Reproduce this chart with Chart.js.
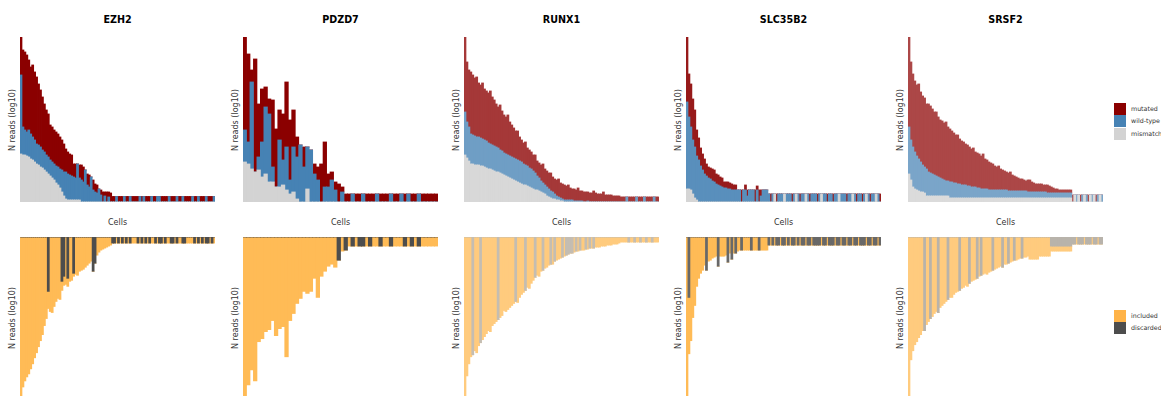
<!DOCTYPE html>
<html><head><meta charset="utf-8">
<script src="https://cdn.jsdelivr.net/npm/chart.js@4/dist/chart.umd.min.js"></script>
<style>
html,body{margin:0;padding:0;background:#fff;}
body{position:relative;width:1161px;height:396px;overflow:hidden;font-family:"DejaVu Sans",sans-serif;}
canvas{position:absolute;}
.lbl{position:absolute;white-space:nowrap;transform:translate(-50%,-50%);color:#222;}
.ttl{font-weight:bold;font-size:9.6px;color:#000;}
.ax{font-size:8px;color:#333;}
.yl{font-size:8px;color:#333;transform:translate(-50%,-50%) rotate(-90deg);}
.sw{position:absolute;width:12px;height:12px;}
.lt{position:absolute;font-size:6.3px;color:#333;white-space:nowrap;line-height:12px;}
</style></head><body>
<script>
// ---------- categories ----------
const genes = ["EZH2", "PDZD7", "RUNX1", "SLC35B2", "SRSF2"];
const topSeries = ["mutated", "wild-type", "mismatch"];
const bottomSeries = ["included", "discarded"];
const xAxisTitle = "Cells";
const yAxisTitle = "N reads (log10)";

// ---------- EZH2 (log10 reads per cell, cells sorted by depth) ----------
const ezh2Mismatch = [.96,.94,.94,.92,.90,.86,.84,.80,.76,.74, .70,.68,.64,.60,.56,.52,.48,.44,.38,.34, .28,.20,.12,.06,.04,.04,.04,.04,.04,.04, .04,0,0,0,0,0,0,0,0,0, 0,0,0,0,0,0,0,0,0,0, 0,0,0,0,0,0,0,0,0,0, 0,0,0,0,0,0,0,0,0,0, 0,0,0,0,0,0,0,0,0,0, 0,0,0,0,0,0,0,0,0,0, 0,0,0,0,0,0,0,0,0,0];
const ezh2WildType = [1.58,.56,.50,.48,.54,.50,.46,.44,.40,.40, .40,.36,.36,.34,.34,.32,.32,.32,.34,.36, .38,.44,.48,.54,.52,.50,.48,.46,.44,.72, .44,.44,.40,.64,.34,.30,.50,.24,.20,.18, .26,.14,0,.12,0,.10,0,0,0,.11, 0,0,0,.11,0,0,.11,0,0,0, 0,.11,0,.11,0,0,0,.11,0,0, .11,.11,0,0,0,0,.11,0,0,0, .11,0,0,.11,0,0,0,0,.11,0, 0,.11,0,0,0,.11,0,0,0,.11];
const ezh2Mutated = [.76,1.54,1.56,1.54,1.40,1.34,1.44,1.36,1.34,1.22, 1.14,1.06,.96,.90,.86,.70,.70,.68,.68,.66, .64,.60,.56,.46,.44,.42,.42,.26,.28,0, .26,.30,.30,0,.22,.24,0,.20,.16,.16, 0,.10,.20,.08,.20,.10,.18,.11,.11,0, .11,.11,.11,0,.11,.11,0,.11,.11,.11, .11,0,.11,0,.11,.11,.11,0,.11,.11, 0,0,.11,.11,.11,.11,0,.11,.11,.11, 0,.11,.11,0,.11,.11,.11,.11,0,.11, .11,0,.11,.11,.11,0,.11,.11,.11,0];
const ezh2Included = [3.16,2.98,2.86,2.78,2.72,2.62,2.52,2.40,2.30,2.18, 2.06,1.94,1.76,1.62,.34,1.48,1.50,1.38,1.28,1.22, 1.24,.18,.18,.94,.16,.88,.86,.06,.74,.76, .68,.66,.64,.60,.56,.52,.48,0,0,.36, .30,.26,.24,.22,.20,.18,.16,0,0,.12, 0,.12,0,.12,0,.12,0,.12,.12,.12, 0,.12,0,.12,0,.12,0,.12,.12,0, .12,0,0,.12,0,.12,.12,0,0,.12, 0,.12,.12,0,0,.12,.12,.12,.12,0, .12,0,.12,0,.12,0,0,.12,0,.12];
const ezh2Discarded = [0,0,0,0,0,0,0,0,0,0, 0,0,0,0,1.08,0,0,0,0,0, 0,.88,.78,0,.82,0,0,.72,0,0, 0,0,0,0,0,0,0,.68,.52,0, 0,0,0,0,0,0,0,.12,.12,0, .12,0,.12,0,.12,0,.12,0,0,0, .12,0,.12,0,.12,0,.12,0,0,.12, 0,.12,.12,0,.12,0,0,.12,.12,0, .12,0,0,.12,.12,0,0,0,0,.12, 0,.12,0,.12,0,.12,.12,0,.12,0];

// ---------- PDZD7 ----------
const pdzd7Mismatch = [.80,.76,.66,.60,.64,.50,.56,.40,.40,.30, .30,.34,.24,.16,.20,.06,0,0,.26,0, 0,0,0,0,0,0,0,0,0,0, 0,0,0,0,0,0,0,0,0,0, 0,0,0,0,0,0,0,0,0,0, 0,0,0,0,0,0];
const pdzd7WildType = [.64,.44,1.74,0,.26,.70,1.34,1.36,.30,0, .94,.50,.86,.28,.90,.84,1.14,.70,.84,1.04, .56,.44,0,.30,.30,.44,.24,0,.20, 0,0,.16,0,0,.16,0,0,0,.16, 0,0,0,.16,0,0,.16,0,.16,0, 0,.16,0,0,0,0,0];
const pdzd7Mutated = [1.86,1.76,.24,2.26,1.06,1.06,.40,.30,1.34,1.16, .60,.92,1.30,1.20,.74,.40,0,.40,0,0, .20,.26,.76,.90,.26,.16,.16,.36,.10, .16,.16,0,.16,.16,0,.16,.16,.16,0, .16,.16,.16,0,.16,.16,0,.16,0,.16, .16,0,.16,.16,.16,.16,.16];
const pdzd7Included = [3.16,2.94,2.64,2.86,2.08,2.02,1.88,1.84,1.66,1.96, 1.82,1.78,2.38,1.66,1.52,1.32,1.22,1.08,1.12,1.08, .82,1.20,.78,.68,.58,.54,.60,0,.28, 0,.18,0,.18,0,0,.18,0,.18,.18, 0,.18,.18,0,.18,.18,.18,0,.18,0, .18,0,.18,.18,.18,.18,.18];
const pdzd7Discarded = [0,0,0,0,0,0,0,0,0,0, 0,0,0,0,0,0,0,0,0,0, 0,0,0,0,0,0,0,.46,0, .26,0,.18,0,.18,.18,0,.18,0,0, .18,0,0,.18,0,0,0,.18,0,.18, 0,.18,0,0,0,0,0];

// ---------- RUNX1 ----------
const runx1Mismatch = [.94,.88,.82,.76,.76,.74,.74,.74,.72,.72, .70,.68,.66,.66,.64,.62,.60,.60,.58,.56, .54,.52,.50,.48,.46,.44,.42,.40,.38,.36, .34,.34,.32,.30,.28,.26,.24,.24,.22,.20, .18,.16,.12,.10,.08,.06,.06,.04,.04,.02, .02,0,0,0,0,0,0,0,0,0, 0,0,0,0,0,0,0,0,0,0, 0,0,0,0,0,0,0,0,0,0, 0,0,0,0,0,0,0,0,0,0, 0,0,0,0,0,0,0,0,0,0];
const runx1WildType = [.86,.72,.68,.60,.58,.58,.56,.56,.56,.54, .54,.54,.52,.50,.50,.50,.50,.48,.46,.46, .44,.44,.44,.44,.44,.44,.44,.44,.44,.44, .42,.40,.40,.38,.38,.36,.34,.28,.26,.22, .20,.18,.18,.16,.14,.14,.10,.08,.06,.06, .04,.04,.04,.04,.04,.04,.02,.02,.02,.02, .02,0,0,.02,0,0,0,0,0,0, 0,0,0,0,0,0,0,0,0,0, 0,0,0,.10,0,0,0,0,.10,0, 0,0,.10,0,0,0,0,.10,0,0];
const runx1Mutated = [1.50,1.20,1.14,1.24,1.20,1.16,1.20,1.08,1.06,1.12, 1.02,1.00,1.00,1.06,.96,.92,.86,.82,.90,.80, .76,.74,.80,.68,.64,.60,.56,.58,.48,.44, .42,.46,.36,.36,.34,.32,.36,.30,.30,.32, .38,.32,.32,.32,.36,.30,.30,.32,.36,.30, .30,.30,.28,.30,.24,.22,.24,.22,.26,.20, .20,.20,.20,.18,.18,.18,.22,.18,.16,.16, .16,.20,.14,.14,.14,.14,.12,.12,.12,.12, .10,.10,.10,0,.10,.10,.10,.10,0,.10, .10,.10,0,.10,.10,.10,.10,0,.10,.10];
const runx1Included = [3.16,2.76,2.52,2.38,0,2.26,2.30,2.16,0,2.04, 1.98,1.92,1.86,1.88,1.76,1.72,1.68,0,1.60,1.56, 1.46,1.48,1.44,1.40,1.36,1.32,0,1.30,1.20,1.14, 1.10,0,1.00,1.02,.92,.86,0,.76,.78,.68, 0,.62,.60,.56,0,.54,0,.46,.44,.42, 0,.38,0,0,0,0,.30,0,.28,0, .26,.26,0,.24,0,.22,0,.20,.20,.20, .18,.18,.18,.16,.16,.16,.14,.14,.14,.12, .10,.10,.10,.10,0,.10,.10,0,.10,.10, 0,.10,.10,0,.10,.10,0,.10,.10,.10];
const runx1Discarded = [0,0,0,0,2.34,0,0,0,2.10,0, 0,0,0,0,0,0,0,1.64,0,0, 0,0,0,0,0,0,1.28,0,0,0, 0,1.06,0,0,0,0,.80,0,0,0, .66,0,0,0,.54,0,.48,0,0,0, .40,0,.36,.34,.32,.32,0,.28,0,.26, 0,0,.24,0,.22,0,.22,0,0,0, 0,0,0,0,0,0,0,0,0,0, 0,0,0,0,.10,0,0,.10,0,0, .10,0,0,.10,0,0,.10,0,0,0];

// ---------- SLC35B2 ----------
const slc35b2Mismatch = [.26,.26,.24,.16,.08,.04,0,0,0,0, 0,0,0,0,0,0,0,0,0,0, 0,0,0,0,0,0,0,0,0,0, 0,0,0,0,0,0,0,0,0,0, 0,0,0,0,0,.16,0,0,0,0, .16,0,0,0,0,0,.16,0,0,0, 0,.16,0,0,0,0,0,0,0,.16, 0,0,0,0,0,0,0,0,.16,0, 0,0,0,0,0,.16,0,0,0,0, 0,0,.16,0,0,0,0,.16,0,0];
const slc35b2WildType = [1.74,1.44,1.26,1.08,1.02,.88,.84,.72,.64,.56, .52,.48,.46,.42,.40,.36,.34,.32,.30,.28, .28,.26,.26,.24,.24,.24,.24,.24,0,.24, .24,.12,.24,.24,.24,0,.24,0,.12,.24, .24,.24,.16,0,.16,0,0,.16,.16,.16, 0,.16,.16,.16,0,.16,0,.16,0,.16, .16,0,.16,0,.16,.16,.16,0,.16,0, .16,.16,0,.16,.16,0,.16,.16,0,.16, .16,.16,0,.16,.16,0,.16,0,.16,.16, 0,.16,0,.16,0,.16,.16,0,.16,0];
const slc35b2Mutated = [1.30,.86,.86,.82,.74,.52,.44,.36,.32,.30, .24,.22,.22,.24,.24,.20,.20,.18,.18,.12, .12,.14,.12,.12,.10,.10,0,0,.24,0, .10,.12,0,0,0,.24,.08,.24,.12,0, 0,0,0,.16,0,0,.16,0,0,0, 0,0,0,0,.16,0,0,0,.16,0, 0,0,0,.16,0,0,0,.16,0,0, 0,0,.16,0,0,.16,0,0,0,0, 0,0,.16,0,0,0,0,.16,0,0, .16,0,0,0,.16,0,0,0,0,.16];
const slc35b2Included = [3.16,1.12,2.06,1.60,1.36,.98,.82,.72,.66,.56, 0,.48,.46,.42,.40,.38,0,.38,.38,.38, .36,0,.32,0,.32,0,.28,.26,0,.26, .26,.26,.26,0,.26,.26,.26,0,.26,.26, .26,.26,0,.16,0,.16,0,0,.16,0, 0,.16,0,.16,0,0,.16,0,.16,0, 0,.16,0,0,.16,0,0,0,0,.16, 0,0,.16,0,0,0,.16,0,0,.16, 0,0,.16,0,0,.16,0,0,.16,0, 0,0,.16,0,0,.16,0,0,.16,0];
const slc35b2Discarded = [0,1.20,0,0,0,0,0,0,0,0, .66,0,0,0,0,0,.58,0,0,0, 0,.50,0,.44,0,.32,0,0,.26,0, 0,0,0,.26,0,0,0,.26,0,0, 0,0,.16,0,.16,0,.16,.16,0,.16, .16,0,.16,0,.16,.16,0,.16,0,.16, .16,0,.16,.16,0,.16,.16,.16,.16,0, .16,.16,0,.16,.16,.16,0,.16,.16,0, .16,.16,0,.16,.16,0,.16,.16,0,.16, .16,.16,0,.16,.16,0,.16,.16,0,.16];

// ---------- SRSF2 ----------
const srsf2Mismatch = [.56,.44,.30,.26,.24,.22,.20,.20,.18,.12, .12,.12,.12,.12,.12,.12,.12,.12,.12,.12, .12,.08,.08,.08,.08,.08,.08,.08,.08,.08, .08,.08,.08,.08,.08,.08,.08,.08,.08,.08, .08,.08,.08,.08,.08,.08,.08,.08,.08,.08, .08,.08,.08,.08,.08,.08,.08,.08,.08,.08, .08,.08,.08,.08,.08,.08,.08,.08,.08,.08, .08,.08,.08,.08,.08,.08,.08,.08,.08,.08, .08,.08,.08,.08,0,.14,0,.14,0,0, .14,0,0,.14,0,.14,0,0,.14,0];
const srsf2WildType = [.94,.80,.80,.74,.68,.64,.60,.54,.52,.54, .48,.46,.44,.42,.40,.38,.36,.34,.32,.30, .30,.32,.32,.30,.30,.28,.28,.26,.26,.26, .24,.24,.22,.22,.22,.20,.20,.18,.18,.18, .18,.16,.16,.16,.16,.16,.16,.16,.16,.16, .16,.14,.14,.14,.14,.14,.14,.14,.14,.14, .14,.12,.12,.12,.12,.12,.12,.12,.12,.12, .12,.10,.10,.10,.10,.10,.10,.10,.10,.10, .10,.10,.10,.10,0,0,.14,0,0,.14, 0,.14,0,0,.14,0,0,.14,0,.14];
const srsf2Mutated = [1.80,1.56,1.46,1.42,1.42,1.50,1.40,1.38,1.38,1.30, 1.36,1.34,1.30,1.26,1.28,1.20,1.16,1.16,1.14,1.18, 1.08,1.06,1.02,1.00,.96,.98,.90,.88,.86,.82, .82,.78,.76,.78,.70,.70,.68,.66,.70,.60, .58,.56,.54,.52,.48,.46,.48,.42,.40,.38, .36,.36,.38,.32,.30,.28,.26,.24,.24,.22, .20,.24,.24,.20,.18,.16,.16,.16,.16,.14, .14,.16,.14,.12,.10,.08,.08,.06,.06,.06, .06,.06,.06,.06,.14,0,0,0,.14,0, 0,0,.14,0,0,0,.14,0,0,0];
const srsf2Included = [3.16,2.44,2.26,2.14,2.08,2.00,1.94,1.86,0,1.74, 1.68,0,1.58,1.52,1.48,0,1.40,1.36,1.32,1.28, 0,1.20,1.20,1.14,1.10,1.08,0,1.02,1.00,.96, .98,0,.88,.86,.84,0,.78,0,.74,.72, .74,.70,.68,0,.64,.62,.60,.58,0,.54, .54,0,.50,.48,0,.46,.44,.42,0,.40, .40,.38,.44,.44,.44,.44,.44,.38,.38,.38, .38,.38,.38,.10,.10,.10,.10,.10,.10,.10, .10,.10,.10,.10,0,0,.14,0,0,0, .14,0,0,0,.14,0,0,.14,0,0];
const srsf2Discarded = [0,0,0,0,0,0,0,0,1.86,0, 0,1.62,0,0,0,1.50,0,0,0,0, 1.24,0,0,0,0,0,1.06,0,0,0, 0,.92,0,0,0,.82,0,.76,0,0, 0,0,0,.66,0,0,0,0,.60,0, 0,.52,0,0,.46,0,0,0,.42,0, 0,0,0,0,0,0,0,0,0,0, 0,0,0,.18,.18,.18,.18,.18,.18,.18, .18,.18,.18,.18,.14,.14,0,.14,.14,.14, 0,.14,.14,.14,0,.14,.14,0,.14,.14];

// ---------- assembly ----------
const panels = [
  {gene: genes[0], mis: ezh2Mismatch, wt: ezh2WildType, mut: ezh2Mutated, inc: ezh2Included, dis: ezh2Discarded},
  {gene: genes[1], mis: pdzd7Mismatch, wt: pdzd7WildType, mut: pdzd7Mutated, inc: pdzd7Included, dis: pdzd7Discarded},
  {gene: genes[2], mis: runx1Mismatch, wt: runx1WildType, mut: runx1Mutated, inc: runx1Included, dis: runx1Discarded},
  {gene: genes[3], mis: slc35b2Mismatch, wt: slc35b2WildType, mut: slc35b2Mutated, inc: slc35b2Included, dis: slc35b2Discarded},
  {gene: genes[4], mis: srsf2Mismatch, wt: srsf2WildType, mut: srsf2Mutated, inc: srsf2Included, dis: srsf2Discarded}
];
const layout = {lefts: [20, 243, 464, 686, 908], width: 195, topY: 37, topH: 165, botY: 237, botH: 159};
// opaque colours (translucent ggplot fills already blended on white)
const looks = [
  {mut: '#8B0000', wt: '#4682B4', mis: '#D3D3D3', inc: '#FFBB56', dis: '#4D4D4D'},
  {mut: '#8B0000', wt: '#4682B4', mis: '#D3D3D3', inc: '#FFBB56', dis: '#4D4D4D'},
  {mut: '#A53838', wt: '#6F9EC5', mis: '#D8D8D8', inc: '#FFCB7E', dis: '#C4BDB2'},
  {mut: '#971A1A', wt: '#598FBC', mis: '#D5D5D5', inc: '#FFBB56', dis: '#686868'},
  {mut: '#AC4747', wt: '#7AA5C9', mis: '#DBDBDB', inc: '#FFCB7E', dis: '#B8B3AB'}
];

function addText(cls, text, x, y) {
  const d = document.createElement('div');
  d.className = 'lbl ' + cls;
  d.textContent = text;
  d.style.left = x + 'px';
  d.style.top = y + 'px';
  document.body.appendChild(d);
}
function addCanvas(x, y, w, h) {
  const c = document.createElement('canvas');
  c.width = w; c.height = h;
  c.style.left = x + 'px'; c.style.top = y + 'px';
  c.style.width = w + 'px'; c.style.height = h + 'px';
  document.body.appendChild(c);
  return c;
}
function barChart(canvas, labels, datasets, reverse) {
  const totals = labels.map((_, i) => datasets.reduce((s, d) => s + d.data[i], 0));
  return new Chart(canvas, {
    type: 'bar',
    data: {labels, datasets},
    options: {
      responsive: false, animation: false, devicePixelRatio: 1,
      layout: {padding: 0},
      events: [],
      plugins: {legend: {display: false}, tooltip: {enabled: false}, title: {display: false}},
      datasets: {bar: {categoryPercentage: 1, barPercentage: 1, borderWidth: 0, inflateAmount: 0.4}},
      scales: {
        x: {stacked: true, display: false},
        y: {stacked: true, display: false, min: 0, max: Math.max(...totals), reverse}
      }
    }
  });
}

panels.forEach((p, k) => {
  const L = layout.lefts[k], W = layout.width, lk = looks[k];
  const cells = p.mut.map((_, i) => 'cell ' + (i + 1));
  addText('ttl', p.gene, L + W / 2, 19);
  addText('ax', xAxisTitle, L + W / 2, 221.5);
  addText('yl', yAxisTitle, L - 8, 120);
  addText('yl', yAxisTitle, L - 8, 318);
  barChart(addCanvas(L, layout.topY, W, layout.topH), cells, [
    {label: topSeries[2], data: p.mis, backgroundColor: lk.mis},
    {label: topSeries[1], data: p.wt, backgroundColor: lk.wt},
    {label: topSeries[0], data: p.mut, backgroundColor: lk.mut}
  ], false);
  barChart(addCanvas(L, layout.botY, W, layout.botH), cells, [
    {label: bottomSeries[1], data: p.dis, backgroundColor: lk.dis},
    {label: bottomSeries[0], data: p.inc, backgroundColor: lk.inc}
  ], true);
});

// legends
function legendItem(color, text, y) {
  const s = document.createElement('div');
  s.className = 'sw'; s.style.left = '1114px'; s.style.top = y + 'px'; s.style.background = color;
  document.body.appendChild(s);
  const t = document.createElement('div');
  t.className = 'lt'; t.style.left = '1131px'; t.style.top = y + 'px'; t.textContent = text;
  document.body.appendChild(t);
}
legendItem('#8B0000', topSeries[0], 102.5);
legendItem('#4682B4', topSeries[1], 115);
legendItem('#D3D3D3', topSeries[2], 127.5);
legendItem('#FFB347', bottomSeries[0], 309.5);
legendItem('#4D4D4D', bottomSeries[1], 322);
</script>
</body></html>
